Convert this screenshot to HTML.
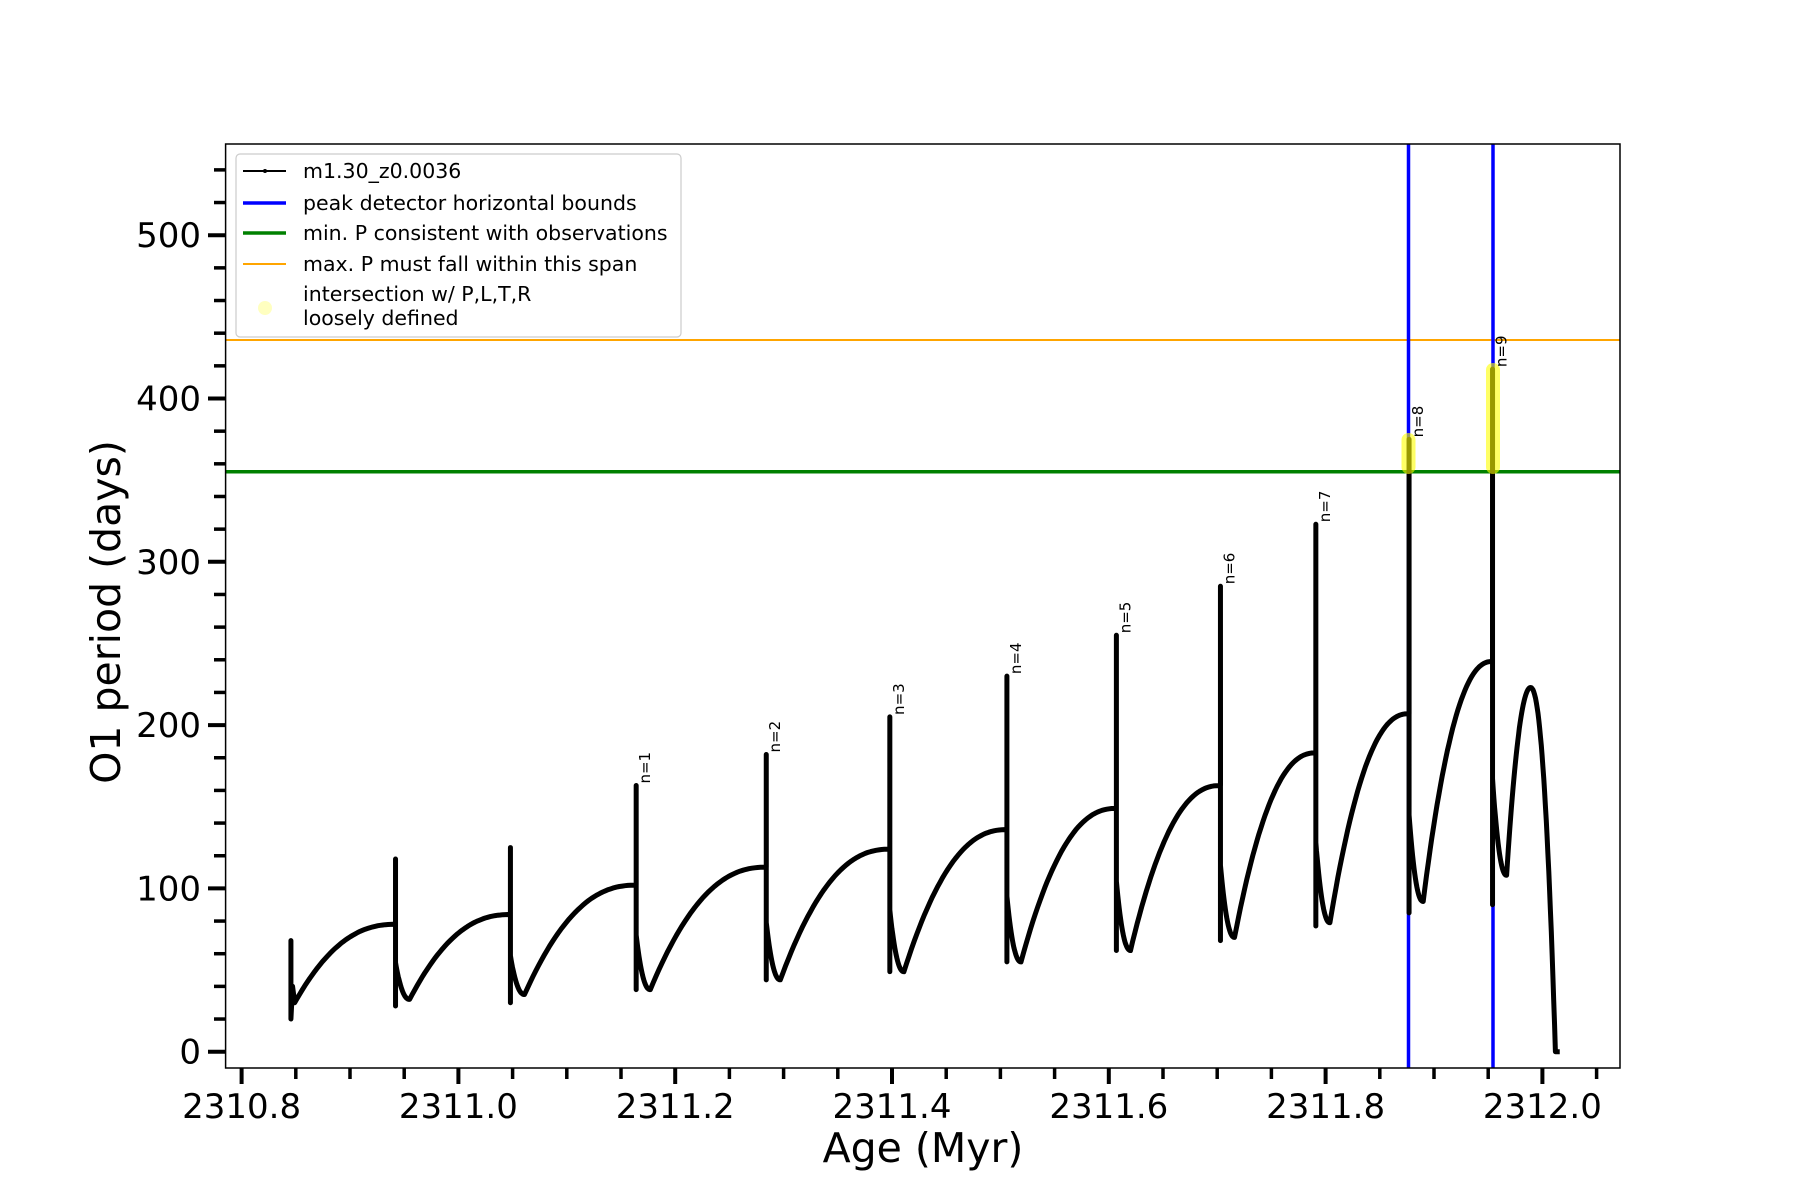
<!DOCTYPE html>
<html><head><meta charset="utf-8"><style>
html,body{margin:0;padding:0;background:#fff;}
svg{display:block;font-family:"DejaVu Sans","Liberation Sans",sans-serif;}
</style></head><body>
<svg id="s" width="1800" height="1200" xmlns="http://www.w3.org/2000/svg">
<rect width="1800" height="1200" fill="#fff"/>
<g id="g"></g>
</svg>
<script>
var NS="http://www.w3.org/2000/svg",g=document.getElementById('g');
function X(a){return 241.6+(a-2310.8)*1084;}
function Y(v){return 1051.7-v*1.633;}
function el(t,at,txt){var e=document.createElementNS(NS,t);for(var k in at)e.setAttribute(k,at[k]);if(txt!=null)e.textContent=txt;g.appendChild(e);return e;}
var L=225.6,R=1620,T=144,B=1068;
var pk=[2310.942,2311.048,2311.164,2311.284,2311.398,2311.506,2311.607,2311.703,2311.791,2311.877,2311.954];
var pv=[78,84,102,113,124,136,149,163,183,207,239];
var sp=[118,125,163,182,205,230,255,285,323,375,418];
var lo=[28,30,38,44,49,55,62,68,77,85,90];
var mv=[32,35,38,44,49,55,62,70,79,92,108];
var d="M"+X(2310.8455)+","+Y(50)+"L"+X(2310.8455)+","+Y(68)+"L"+X(2310.8455)+","+Y(20)+"L"+X(2310.847)+","+Y(40);
var prevA=2310.849,prevV=30;
d+="L"+X(2310.849)+","+Y(30);
for(var i=0;i<pk.length;i++){
  var a0=prevA,m=prevV,a1=pk[i],P=pv[i];
  for(var k=1;k<=40;k++){var t=k/40;var v=m+(P-m)*(1-Math.pow(1-t,2.3));d+="L"+X(a0+(a1-a0)*t).toFixed(1)+","+Y(v).toFixed(1);}
  d+="L"+X(a1)+","+Y(sp[i])+"L"+X(a1)+","+Y(lo[i])+"L"+X(a1)+","+Y(P*0.7);
  var am=a1+0.013,st=P*0.7,s0=a1;
  for(var k=1;k<=20;k++){var t=k/20;var v=mv[i]+(st-mv[i])*Math.pow(1-t,2.2);d+="L"+X(s0+(am-s0)*t).toFixed(1)+","+Y(v).toFixed(1);}
  prevA=am;prevV=mv[i];
}
var a0=prevA;
for(var k=1;k<=30;k++){var t=k/30;var a=a0+(2311.989-a0)*t;var v=108+(223-108)*(1-Math.pow(1-t,2));d+="L"+X(a).toFixed(1)+","+Y(v).toFixed(1);}
for(var k=1;k<=30;k++){var t=k/30;var a=2311.989+(2312.012-2311.989)*t;var v=223*(1-Math.pow(t,2.2));d+="L"+X(a).toFixed(1)+","+Y(v).toFixed(1);}
d+="L"+X(2312.016)+","+Y(0);
el('line',{x1:L,x2:R,y1:340,y2:340,stroke:'#ffa500','stroke-width':2});
el('line',{x1:L,x2:R,y1:471.7,y2:471.7,stroke:'#008000','stroke-width':3.5});
el('line',{x1:1408.5,x2:1408.5,y1:T,y2:B,stroke:'#0000ff','stroke-width':3.5});
el('line',{x1:1493,x2:1493,y1:T,y2:B,stroke:'#0000ff','stroke-width':3.5});
el('path',{d:d,fill:'none',stroke:'#000','stroke-width':5,'stroke-linejoin':'round'});
el('line',{x1:1408.5,x2:1408.5,y1:440,y2:467,stroke:'#ffff00','stroke-width':14,'stroke-linecap':'round',opacity:0.6});
el('line',{x1:1493,x2:1493,y1:370,y2:467,stroke:'#ffff00','stroke-width':14,'stroke-linecap':'round',opacity:0.6});
var all=[[2311.164,163],[2311.284,182],[2311.398,205],[2311.506,230],[2311.607,255],[2311.703,285],[2311.791,323],[2311.877,375],[2311.954,418]];
all.forEach(function(p,i){var x=X(p[0])+14,y=Y(p[1])-2;el('text',{x:x,y:y,'font-size':15,transform:'rotate(-90 '+x+' '+y+')'},'n='+(i+1));});
el('rect',{x:L,y:T,width:R-L,height:B-T,fill:'none',stroke:'#000','stroke-width':1.5});
for(var v=0;v<=540;v+=20){var y=Y(v),maj=v%100==0;el('line',{x1:maj?208:214,x2:L,y1:y,y2:y,stroke:'#000','stroke-width':maj?4:3.5});
 if(maj)el('text',{x:201,y:y+12,'font-size':34,'text-anchor':'end'},v);}
for(var j=0;j<=25;j++){var a=2310.8+j*0.05;var x=X(a),maj=j%4==0;el('line',{x1:x,x2:x,y1:B,y2:maj?1084:1079,stroke:'#000','stroke-width':maj?4:3.5});
 if(maj)el('text',{x:x,y:1118,'font-size':34,'text-anchor':'middle'},a.toFixed(1));}
el('text',{x:923,y:1162,'font-size':41,'text-anchor':'middle'},'Age (Myr)');
el('text',{x:120,y:612,'font-size':41,'text-anchor':'middle',transform:'rotate(-90 120 612)'},'O1 period (days)');
el('rect',{x:236,y:154,width:445,height:183,rx:4,fill:'#fff','fill-opacity':0.8,stroke:'#ccc','stroke-width':1.2});
el('line',{x1:243,x2:286,y1:171,y2:171,stroke:'#000','stroke-width':2});
el('circle',{cx:265,cy:171,r:2,fill:'#000'});
el('line',{x1:243,x2:286,y1:203,y2:203,stroke:'#0000ff','stroke-width':3.5});
el('line',{x1:243,x2:286,y1:233,y2:233,stroke:'#008000','stroke-width':3.5});
el('line',{x1:243,x2:286,y1:264,y2:264,stroke:'#ffa500','stroke-width':2});
el('ellipse',{cx:265,cy:308,rx:7,ry:7,fill:'#ffffc0'});
var lt=[['m1.30_z0.0036',178],['peak detector horizontal bounds',210],['min. P consistent with observations',240],['max. P must fall within this span',271],['intersection w/ P,L,T,R',301],['loosely defined',325]];
lt.forEach(function(t){el('text',{x:303,y:t[1],'font-size':20.5},t[0]);});
</script>
</body></html>
